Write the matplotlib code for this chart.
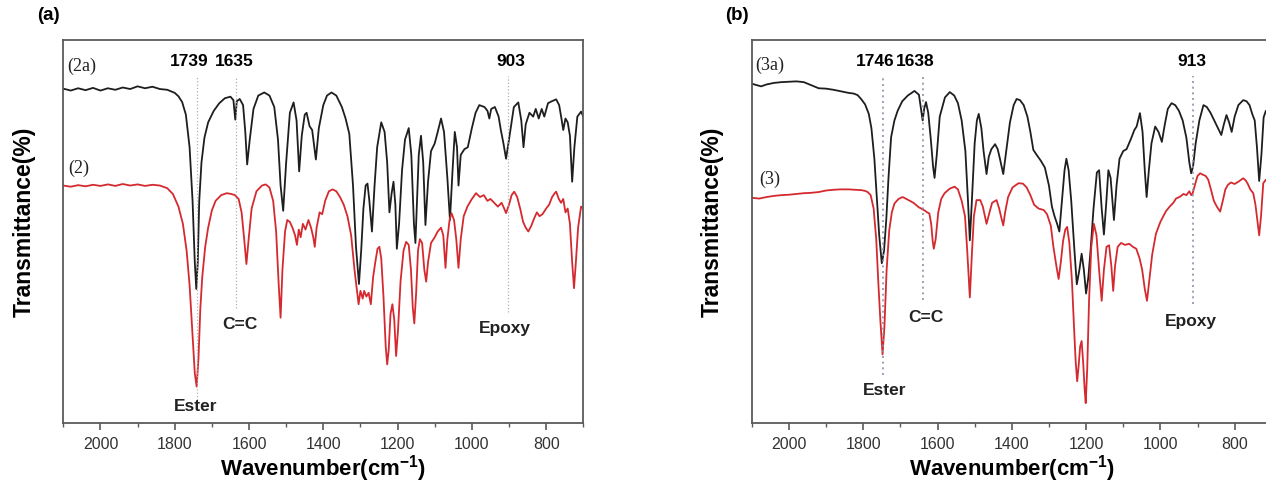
import matplotlib
matplotlib.use("Agg")
import matplotlib.pyplot as plt
from matplotlib.ticker import MultipleLocator

plt.rcParams['font.family'] = ['Liberation Sans', 'DejaVu Sans']
plt.rcParams['mathtext.fontset'] = 'custom'
plt.rcParams['mathtext.rm'] = 'Liberation Sans:bold'
plt.rcParams['mathtext.default'] = 'rm'

# ---- panel (a): spectra (2a) black, (2) red ----
wn_2a = [2100, 2080, 2060, 2040, 2020, 2000, 1980, 1960, 1940, 1920, 1900, 1880, 1860, 1840, 1820,
         1800, 1790, 1780, 1770, 1760, 1752, 1746, 1742, 1738, 1734, 1728, 1720, 1710, 1695, 1680,
         1665, 1650, 1642, 1637, 1633, 1625, 1616, 1610, 1605, 1598, 1588, 1575, 1559, 1545, 1532,
         1522, 1515, 1508, 1500, 1490, 1480, 1472, 1465, 1458, 1450, 1445, 1437, 1430, 1420, 1412,
         1400, 1390, 1378, 1365, 1350, 1340, 1330, 1320, 1312, 1304, 1298, 1292, 1286, 1281, 1276,
         1269, 1262, 1255, 1244, 1235, 1228, 1222, 1216, 1211, 1206, 1202, 1196, 1188, 1180, 1170,
         1163, 1156, 1152, 1147, 1143, 1137, 1131, 1125, 1118, 1110, 1100, 1092, 1083, 1075, 1066,
         1059, 1052, 1046, 1040, 1036, 1030, 1020, 1011, 1000, 990, 980, 966, 958, 953, 948,
         938, 928, 922, 915, 908, 900, 887, 875, 867, 861, 855, 845, 835, 828, 820,
         812, 805, 795, 785, 773, 765, 758, 754, 748, 742, 736, 730, 724, 716, 706, 700]
t_2a = [87.3, 86.8, 87.4, 86.9, 87.5, 86.8, 87.4, 87.0, 87.6, 87.2, 87.9, 87.4, 87.8, 87.2, 87.0,
        86.2, 85.3, 83.8, 80.5, 72, 58, 42, 35, 42, 58, 68, 74.5, 78.5, 81.5, 83.5,
        84.8, 85.2, 84.3, 79.2, 84.0, 84.6, 83, 76, 67.5, 74, 82, 85.5, 86.3, 85.5, 82.5,
        74, 62, 55.4, 68, 81, 83.7, 79, 65.7, 75, 80.5, 81, 77.5, 76.5, 68.8, 77,
        83, 85.5, 86.3, 85.5, 82.5, 79.5, 75.5, 62, 46, 36.3, 45, 56, 62, 62.5, 58,
        50, 62, 72, 78.5, 76, 68, 55, 60, 63, 57, 45.5, 52, 66, 74, 77,
        70, 52, 47, 60, 70, 75, 68, 51.7, 63, 71, 73, 76, 79.5, 76, 64,
        53, 66, 76, 72, 62, 70, 71.5, 72, 77, 81, 83, 82.5, 81.5, 79.5, 82,
        82.5, 80, 76.5, 73, 69, 74, 82.5, 83.7, 79, 72, 78, 81, 80, 82, 79.5,
        82, 80, 83.5, 84, 84.5, 83, 79, 76.5, 79.5, 78.5, 75, 63, 72, 80, 81.3, 80]

wn_2 = [2100, 2080, 2060, 2040, 2020, 2000, 1980, 1960, 1940, 1920, 1900, 1880, 1860, 1840, 1820,
        1805, 1790, 1778, 1768, 1760, 1752, 1746, 1741, 1736, 1731, 1726, 1718, 1710, 1700, 1690,
        1675, 1660, 1648, 1638, 1628, 1620, 1613, 1607, 1601, 1593, 1580, 1565, 1555, 1545, 1535,
        1527, 1520, 1515, 1510, 1503, 1497, 1490, 1483, 1476, 1471, 1466, 1461, 1455, 1448, 1440,
        1433, 1427, 1423, 1418, 1410, 1403, 1395, 1385, 1375, 1365, 1355, 1345, 1335, 1325, 1316,
        1310, 1305, 1300, 1294, 1290, 1284, 1278, 1272, 1266, 1260, 1254, 1249, 1244, 1238, 1232,
        1228, 1224, 1219, 1214, 1209, 1204, 1199, 1192, 1184, 1177, 1170, 1164, 1159, 1155, 1150,
        1145, 1140, 1134, 1128, 1123, 1118, 1110, 1100, 1092, 1083, 1077, 1071, 1066, 1060, 1055,
        1048, 1042, 1036, 1030, 1022, 1012, 1000, 989, 978, 968, 958, 950, 940, 930, 920,
        913, 908, 900, 893, 886, 878, 870, 862, 855, 848, 840, 832, 825, 818, 810,
        800, 792, 784, 777, 773, 766, 760, 754, 748, 742, 736, 730, 725, 720, 714, 706, 700]
t_2 = [62.0, 61.7, 62.1, 61.8, 62.2, 61.9, 62.3, 61.9, 62.4, 62.0, 62.3, 61.9, 62.2, 62.0, 61.3,
       59.8, 56.5, 52, 45, 36, 23, 13, 9.5, 17, 30, 38, 46, 51, 55.5, 58,
       59.5, 60, 59.8, 59.5, 58.5, 55, 48, 41.5, 48, 56, 60.5, 62, 62.3, 61.5, 58,
       50, 36, 27.5, 40, 50, 53, 52.5, 51, 49, 46.5, 50.5, 48.5, 52, 50.5, 53,
       51, 48.5, 46, 51, 55, 54.5, 58, 60.5, 61, 60.5, 59, 57, 54, 49, 40,
       35, 31, 34.5, 32.5, 34.5, 33, 34, 31, 38, 42, 45.5, 46, 43, 33, 20,
       15.3, 19, 28.5, 31, 27, 17.5, 24, 37, 45, 47.3, 46.5, 40, 30, 26, 34,
       45, 48, 47, 40, 36.9, 42, 47, 48.5, 50, 51, 49, 40.5, 48, 53, 54.8,
       53, 48, 40.5, 48, 54, 56.5, 58.5, 60, 59, 59.5, 58, 58.5, 57.5, 56.5, 57.5,
       56, 54.8, 57, 59.5, 60.4, 59, 56, 52.5, 51, 50, 51.5, 53.5, 55, 54, 54.5,
       56, 57, 59, 60, 60.4, 58.5, 57.5, 58.5, 55, 56, 52, 42, 35.2, 42, 51, 56.5, 56]

# ---- panel (b): spectra (3a) black, (3) red ----
wn_3a = [2100, 2090, 2075, 2060, 2040, 2020, 2000, 1980, 1960, 1940, 1920, 1900, 1880, 1860, 1840,
         1825, 1815, 1805, 1795, 1785, 1778, 1770, 1763, 1757, 1750, 1744, 1738, 1732, 1725, 1716,
         1707, 1695, 1680, 1662, 1650, 1643, 1640, 1636, 1631, 1625, 1618, 1612, 1608, 1602, 1594,
         1580, 1567, 1555, 1545, 1535, 1525, 1518, 1513, 1508, 1500, 1494, 1489, 1482, 1476, 1468,
         1462, 1455, 1445, 1438, 1432, 1423, 1415, 1405, 1395, 1387, 1378, 1368, 1358, 1350, 1342,
         1333, 1322, 1311, 1300, 1292, 1285, 1278, 1272, 1265, 1258, 1253, 1247, 1240, 1232, 1225,
         1218, 1212, 1206, 1200, 1194, 1188, 1180, 1171, 1165, 1158, 1152, 1146, 1140, 1134, 1125,
         1118, 1110, 1100, 1091, 1080, 1070, 1064, 1055, 1048, 1042, 1037, 1031, 1024, 1014, 1005,
         996, 988, 980, 970, 960, 950, 940, 930, 922, 917, 912, 905, 895, 884, 875,
         865, 855, 845, 836, 829, 822, 815, 808, 800, 790, 777, 768, 760, 752, 746,
         740, 734, 728, 722, 716, 706, 700]
t_3a = [88.6, 88.3, 87.9, 88.4, 88.8, 89.0, 89.1, 89.2, 89.0, 88.2, 87.4, 87.3, 87.0, 86.6, 86.2,
        86.0, 85.6, 84.5, 83.2, 80.7, 77, 69, 58, 49, 41.7, 45, 53, 64, 74.6, 79,
        81.6, 84, 85.5, 86.7, 85.7, 81, 79, 82, 83.8, 81, 74, 67, 64, 70, 80,
        85, 86.4, 85.5, 83.5, 79, 71, 58, 47.7, 57, 73, 79, 80.7, 77, 71, 65,
        69.5, 71.5, 72.8, 71.5, 69, 65, 71, 78.5, 83, 84.6, 84.3, 83, 80, 76, 71.3,
        70, 68.5, 66.7, 62, 56.5, 54, 52, 50, 58, 66, 69, 66, 58, 46, 36.2,
        40, 44.2, 40, 33.8, 38, 45, 56, 65.4, 66, 56, 49.2, 57, 66, 64, 53,
        62, 69, 71, 71.5, 74, 76.5, 77.4, 80.9, 76, 66, 59, 66, 73, 77.4, 76,
        73.4, 78, 82, 83.5, 83, 81.5, 79, 74.5, 68, 65.2, 67, 73, 79, 83, 82.5,
        81, 79, 77, 75.2, 78, 80.4, 78.5, 76, 80, 83, 84.3, 84, 83, 80.5, 79,
        72, 63.2, 70, 79.8, 81.5, 82, 81]

wn_3 = [2100, 2080, 2060, 2040, 2020, 2000, 1980, 1960, 1940, 1920, 1900, 1880, 1860, 1840, 1820,
        1805, 1795, 1788, 1780, 1772, 1765, 1759, 1754, 1748, 1743, 1737, 1730, 1723, 1716, 1705,
        1694, 1680, 1665, 1650, 1644, 1635, 1628, 1622, 1617, 1613, 1610, 1605, 1598, 1590, 1581,
        1567, 1554, 1545, 1535, 1526, 1520, 1513, 1507, 1502, 1495, 1485, 1478, 1468, 1460, 1453,
        1441, 1434, 1428, 1423, 1418, 1410, 1398, 1382, 1370, 1360, 1350, 1340, 1328, 1314, 1305,
        1295, 1288, 1280, 1274, 1268, 1262, 1256, 1251, 1245, 1238, 1232, 1228, 1224, 1220, 1216,
        1212, 1208, 1204, 1201, 1197, 1192, 1186, 1179, 1172, 1165, 1158, 1152, 1145, 1138, 1132,
        1127, 1122, 1115, 1106, 1095, 1084, 1074, 1065, 1056, 1049, 1042, 1036, 1030, 1022, 1012,
        1000, 985, 975, 965, 958, 947, 938, 930, 922, 917, 913, 906, 900, 893, 885,
        878, 871, 864, 856, 848, 839, 832, 825, 818, 810, 800, 790, 783, 777, 770,
        765, 758, 750, 744, 739, 734, 729, 723, 716, 706, 700]
t_3 = [58.8, 58.6, 59.0, 59.3, 59.5, 59.6, 59.8, 60.0, 60.1, 60.3, 60.7, 60.9, 61.0, 61.0, 60.9,
       60.8, 60.6, 60.3, 59.5, 56, 48, 36, 27, 17.9, 25, 40, 50.3, 55, 57.3, 58.5,
       59, 58.3, 57.5, 56.3, 56, 55.5, 55, 54.7, 52, 47.5, 45.5, 48, 55, 58.5, 60,
       61.2, 61.7, 61, 58, 54, 45, 32.8, 45, 54, 58.2, 58.2, 56.5, 52, 55, 57.5,
       58.2, 56, 53.5, 51.6, 55, 59, 61.5, 62.6, 62.5, 61.5, 59.5, 57, 56, 55.6, 54.5,
       51.5, 46, 41, 37.6, 42, 47.5, 50.5, 51.2, 47, 37, 24, 16, 10.9, 15, 20,
       21.4, 16, 9, 5.2, 14, 32, 46, 52, 49, 40, 31.9, 40, 46, 46.4, 41,
       34.5, 41, 46, 47, 46.5, 46.8, 46, 45.5, 43, 40, 35, 31.9, 37, 44, 49.4,
       52.5, 55.3, 56.5, 57.5, 58.6, 59.1, 59.8, 59.5, 60.5, 59.5, 60, 62.5, 64.5, 65.2, 64.8,
       64.5, 63.5, 61, 58, 56.5, 55.2, 58, 61, 62.2, 62.8, 62.4, 63, 63.5, 63.9, 63.3,
       62.5, 61, 60, 57, 53, 49, 54, 62.6, 63.5, 64, 64]

# peak markers: (label, wavenumber, bottom of dotted line)
peaks_a = [("1739", 1739, 6), ("1635", 1635, 30), ("903", 903, 29)]
peaks_b = [("1746", 1746, 12.5), ("1638", 1638, 32), ("913", 913, 31)]
groups_a = [("Ester", 1743, 4.2), ("C=C", 1625, 25.8), ("Epoxy", 912, 24.8)]
groups_b = [("Ester", 1743, 8.4), ("C=C", 1631, 27.5), ("Epoxy", 917, 26.6)]

BLACK = '#1e1e1e'
RED = '#d42a2f'
SPINE = '#5a5a5a'

fig = plt.figure(figsize=(12.66, 4.86), dpi=100)
ax_a = fig.add_axes([63.3 / 1266, 63 / 486, 520 / 1266, 383 / 486])
ax_b = fig.add_axes([751.8 / 1266, 63 / 486, 520 / 1266, 383 / 486])


def style(ax):
    ax.set_xlim(2100, 700)
    ax.set_ylim(0, 100)
    ax.xaxis.set_major_locator(MultipleLocator(200))
    ax.xaxis.set_minor_locator(MultipleLocator(100))
    ax.tick_params(axis='x', which='major', direction='out', length=5, width=1.2,
                   colors=SPINE, labelcolor='#333333', labelsize=11.5, pad=5)
    ax.tick_params(axis='x', which='minor', direction='out', length=3, width=1.0, colors=SPINE)
    ax.set_yticks([])
    for sp in ax.spines.values():
        sp.set_color(SPINE)
        sp.set_linewidth(1.3)
    ax.set_xlabel(r'Wavenumber(cm$^{-1}$)', fontsize=16, fontweight='bold', labelpad=1)


def draw(ax, wn_top, t_top, wn_bot, t_bot, peaks, groups, names, pk_dx, line_style):
    ax.plot(wn_top, t_top, color=BLACK, lw=1.3)
    ax.plot(wn_bot, t_bot, color=RED, lw=1.3)
    for (lab, w, y0), dx in zip(peaks, pk_dx):
        ax.plot([w, w], [y0, 90.5], **line_style)
        ax.text(w + dx, 94.5, lab, ha='center', va='center', fontsize=12.5, fontweight='bold')
    for lab, w, y in groups:
        ax.text(w, y, lab, ha='center', va='center', fontsize=12.5, fontweight='bold',
                color='#222222')
    for lab, w, y in names:
        ax.text(w, y, lab, ha='left', va='center', fontsize=13, family='Liberation Serif',
                color='#222222')


style(ax_a)
style(ax_b)
draw(ax_a, wn_2a, t_2a, wn_2, t_2, peaks_a, groups_a,
     [("(2a)", 2090, 93.0), ("(2)", 2087, 66.5)], [22, 5, -8],
     dict(color='#b0b0b0', lw=0.9, ls=':'))
draw(ax_b, wn_3a, t_3a, wn_3, t_3, peaks_b, groups_b,
     [("(3a)", 2090, 93.3), ("(3)", 2080, 63.5)], [22, 22, 3],
     dict(color='#8a93a8', lw=1.2, ls=(0, (1.2, 2.2))))

fig.text(48 / 1266, 1 - 16 / 486, '(a)', fontsize=13.5, fontweight='bold', ha='center', va='center')
fig.text(737 / 1266, 1 - 16 / 486, '(b)', fontsize=13.5, fontweight='bold', ha='center', va='center')
fig.text(24 / 1266, 1 - 222 / 486, 'Transmittance(%)', fontsize=16.5, fontweight='bold',
         rotation=90, ha='center', va='center')
fig.text(712 / 1266, 1 - 222 / 486, 'Transmittance(%)', fontsize=16.5, fontweight='bold',
         rotation=90, ha='center', va='center')

fig.savefig('out.png', dpi=100)
